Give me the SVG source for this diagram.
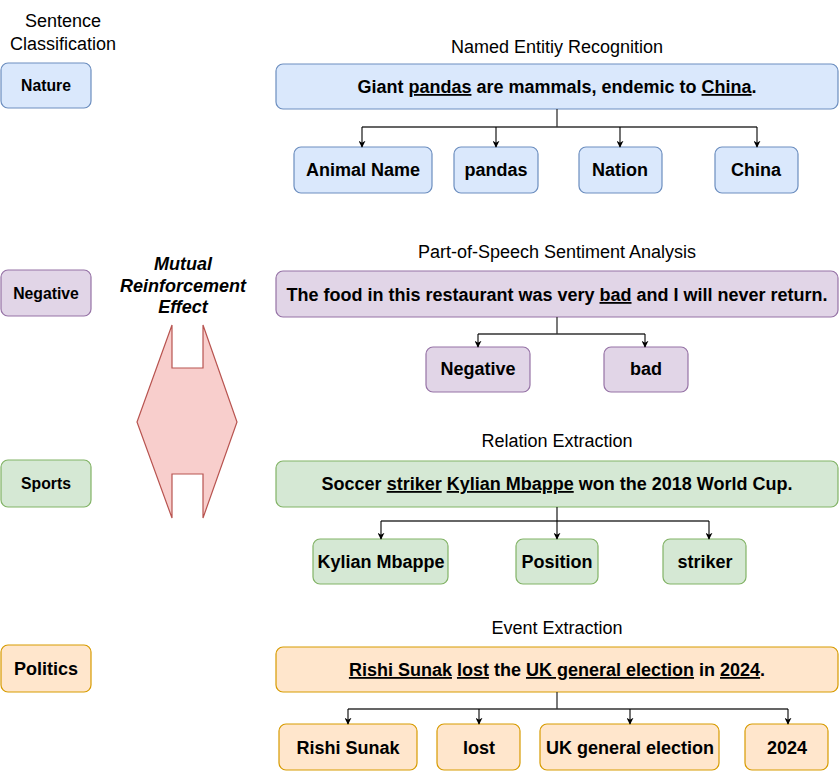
<svg xmlns="http://www.w3.org/2000/svg" width="839" height="774" viewBox="0 0 839 774">
<style>
text{font-family:"Liberation Sans",Arial,sans-serif;fill:#000;}
.t{font-size:18px;text-anchor:middle;}
.b{font-size:18px;font-weight:bold;text-anchor:middle;}
.s{font-size:15.75px;font-weight:bold;text-anchor:middle;}
.u{text-decoration:underline;}
.blue{fill:#dae8fc;stroke:#6c8ebf;stroke-width:1.2;}
.purple{fill:#e1d5e7;stroke:#9673a6;stroke-width:1.2;}
.green{fill:#d5e8d4;stroke:#82b366;stroke-width:1.2;}
.orange{fill:#ffe6cc;stroke:#d79b00;stroke-width:1.2;}
.c{fill:none;stroke:#333;stroke-width:1.3;}
.a{fill:none;stroke:#000;stroke-width:1.1;marker-end:url(#arr);}
</style>
<defs>
<marker id="arr" viewBox="0 0 10 10" refX="9" refY="5" markerWidth="7" markerHeight="7" markerUnits="userSpaceOnUse" orient="auto">
<path d="M0,0 L10,5 L0,10 L3,5 Z" fill="#000"/>
</marker>
</defs>

<text class="t" x="63" y="27">Sentence</text>
<text class="t" x="63" y="50">Classification</text>

<g id="nature"><rect class="blue" x="1" y="63" width="90" height="45" rx="7"/><text class="s" x="46" y="91">Nature</text></g>
<g id="negative-cls"><rect class="purple" x="1" y="270" width="90" height="46" rx="7"/><text class="s" x="46" y="299">Negative</text></g>
<g id="sports"><rect class="green" x="1" y="460" width="90" height="47" rx="7"/><text class="s" x="46" y="489">Sports</text></g>
<g id="politics"><rect class="orange" x="1" y="645" width="90" height="47" rx="7"/><text class="b" x="46" y="675">Politics</text></g>

<g id="mre">
<text class="b" font-style="italic" x="183" y="270">Mutual</text>
<text class="b" font-style="italic" x="183" y="292">Reinforcement</text>
<text class="b" font-style="italic" x="183" y="313">Effect</text>
<polygon points="172,325 172,368 203,368 203,325 237,422 203,518 203,474 172,474 172,518 137,422" fill="#f8cecc" stroke="#b85450" stroke-width="1.2"/>
</g>

<!-- NER -->
<text class="t" x="557" y="53">Named Entitiy Recognition</text>
<g id="ner-sent"><rect class="blue" x="276" y="64" width="562" height="45" rx="7"/>
<text class="b" x="557" y="93">Giant <tspan class="u">pandas</tspan> are mammals, endemic to <tspan class="u">China</tspan>.</text></g>
<g id="ner-1"><rect class="blue" x="294" y="147" width="138" height="46" rx="7"/><text class="b" x="363" y="176">Animal Name</text></g>
<g id="ner-2"><rect class="blue" x="454" y="147" width="84" height="46" rx="7"/><text class="b" x="496" y="176">pandas</text></g>
<g id="ner-3"><rect class="blue" x="579" y="147" width="83" height="46" rx="7"/><text class="b" x="620" y="176">Nation</text></g>
<g id="ner-4"><rect class="blue" x="715" y="147" width="83" height="46" rx="7"/><text class="b" x="756" y="176">China</text></g>

<!-- POS -->
<text class="t" x="557" y="258">Part-of-Speech Sentiment Analysis</text>
<g id="pos-sent"><rect class="purple" x="276" y="271" width="562" height="46" rx="7"/>
<text class="b" x="557" y="301">The food in this restaurant was very <tspan class="u">bad</tspan> and I will never return.</text></g>
<g id="pos-1"><rect class="purple" x="426" y="347" width="104" height="45" rx="7"/><text class="b" x="478" y="375">Negative</text></g>
<g id="pos-2"><rect class="purple" x="604" y="347" width="84" height="45" rx="7"/><text class="b" x="646" y="375">bad</text></g>

<!-- RE -->
<text class="t" x="557" y="447">Relation Extraction</text>
<g id="re-sent"><rect class="green" x="276" y="461" width="562" height="46" rx="7"/>
<text class="b" x="557" y="490">Soccer <tspan class="u">striker</tspan> <tspan class="u">Kylian Mbappe</tspan> won the 2018 World Cup.</text></g>
<g id="re-1"><rect class="green" x="313" y="539" width="135" height="45" rx="7"/><text class="b" x="381" y="568">Kylian Mbappe</text></g>
<g id="re-2"><rect class="green" x="516" y="539" width="82" height="45" rx="7"/><text class="b" x="557" y="568">Position</text></g>
<g id="re-3"><rect class="green" x="663" y="539" width="83" height="45" rx="7"/><text class="b" x="705" y="568">striker</text></g>

<!-- EE -->
<text class="t" x="557" y="634">Event Extraction</text>
<g id="ee-sent"><rect class="orange" x="276" y="647" width="562" height="45" rx="7"/>
<text class="b" x="557" y="676"><tspan class="u">Rishi Sunak</tspan> <tspan class="u">lost</tspan> the <tspan class="u">UK general election</tspan> in <tspan class="u">2024</tspan>.</text></g>
<g id="ee-1"><rect class="orange" x="279" y="724" width="138" height="46" rx="7"/><text class="b" x="348" y="754">Rishi Sunak</text></g>
<g id="ee-2"><rect class="orange" x="437" y="724" width="83" height="46" rx="7"/><text class="b" x="479" y="754">lost</text></g>
<g id="ee-3"><rect class="orange" x="540" y="724" width="179" height="46" rx="7"/><text class="b" x="630" y="754">UK general election</text></g>
<g id="ee-4"><rect class="orange" x="745" y="724" width="83" height="46" rx="7"/><text class="b" x="787" y="754">2024</text></g>

<g id="connectors">
<path class="c" d="M557,109 V127 M362,127 H757"/>
<path class="a" d="M362,127 V147"/>
<path class="a" d="M496,127 V147"/>
<path class="a" d="M620,127 V147"/>
<path class="a" d="M757,127 V147"/>

<path class="c" d="M557,317 V334 M478,334 H645"/>
<path class="a" d="M478,334 V347"/>
<path class="a" d="M645,334 V347"/>

<path class="c" d="M381,521 H709"/>
<path class="a" d="M557,507 V539"/>
<path class="a" d="M381,521 V539"/>
<path class="a" d="M709,521 V539"/>

<path class="c" d="M557,692 V709 M348,709 H788"/>
<path class="a" d="M348,709 V724"/>
<path class="a" d="M479,709 V724"/>
<path class="a" d="M630,709 V724"/>
<path class="a" d="M788,709 V724"/>
</g>
</svg>
